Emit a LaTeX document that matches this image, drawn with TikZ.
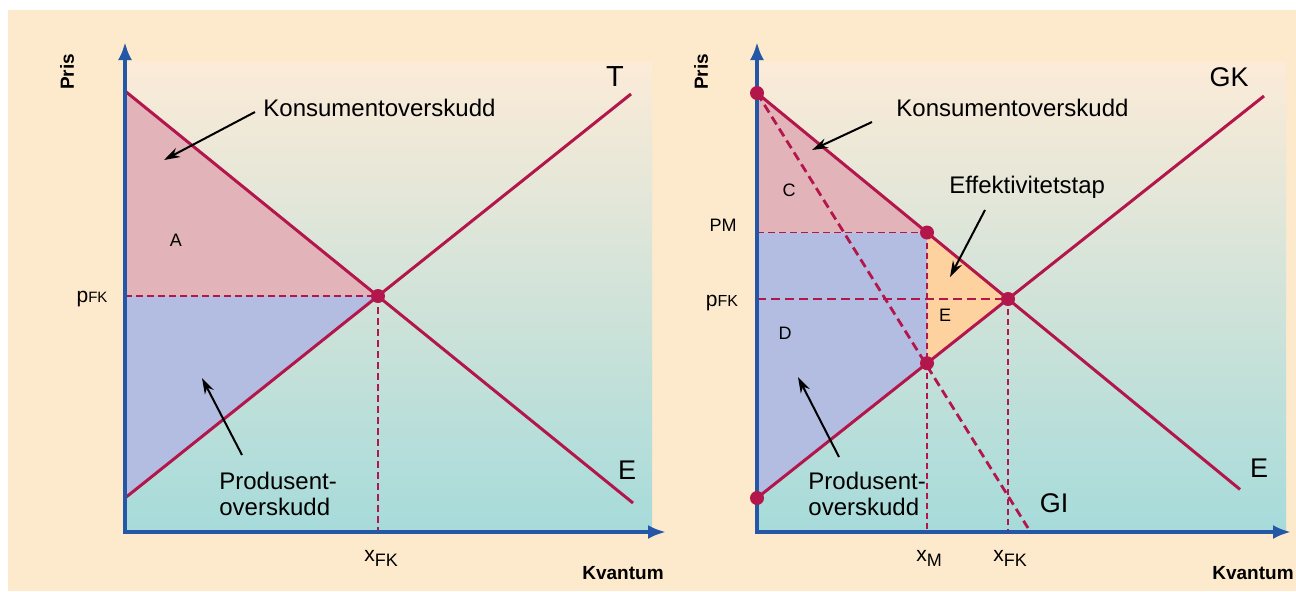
\documentclass[tikz,border=0pt]{standalone}
\usepackage{fontspec}
\setmainfont{Liberation Sans}
\usetikzlibrary{arrows.meta}
\definecolor{peach}{HTML}{FDE9CC}
\definecolor{gtop}{HTML}{FCEBD8}
\definecolor{gmid}{HTML}{D8E5D9}
\definecolor{gbot}{HTML}{A6DBDA}
\definecolor{crim}{HTML}{B3164B}
\definecolor{axblue}{HTML}{2557A7}
\definecolor{cspink}{HTML}{E2B3B9}
\definecolor{pslav}{HTML}{B3BDE1}
\definecolor{dwlor}{HTML}{FDD29F}
\begin{document}
\begin{tikzpicture}[x=0.5pt,y=-0.5pt,
  curve/.style={crim,line width=1.5pt},
  axisline/.style={axblue,line width=2pt,{Latex[length=9pt,width=7pt]}-{Latex[length=9pt,width=7pt]}},
  thindash/.style={crim,line width=0.7pt,dash pattern=on 3.5pt off 2pt},
  middash/.style={crim,line width=1pt,dash pattern=on 3pt off 2pt},
  thickdash/.style={crim,line width=1.4pt,dash pattern=on 4.5pt off 2.5pt},
  dot/.style={circle,fill=crim,inner sep=0pt,minimum size=7pt},
  pointer/.style={black,line width=1pt,-{Stealth[length=8pt,width=5pt]}},
  lbl/.style={inner sep=0pt,font=\fontsize{12}{14}\selectfont},
  big/.style={inner sep=0pt,font=\fontsize{13.5}{15}\selectfont},
  small/.style={inner sep=0pt,font=\fontsize{9}{10}\selectfont},
  axlbl/.style={inner sep=0pt,font=\bfseries\fontsize{9.5}{11}\selectfont}]
\useasboundingbox (0,0) rectangle (1296,591);
\fill[white] (0,0) rectangle (1296,591);
\fill[peach] (8,10) rectangle (1296,591);
\shade[top color=gtop,middle color=gmid,bottom color=gbot] (125,62) rectangle (652,532);
\shade[top color=gtop,middle color=gmid,bottom color=gbot] (757,62) rectangle (1286,532);

% ---------- left panel ----------
\coordinate (LA) at (125,91);
\coordinate (LE) at (378,296);
\coordinate (LP) at (125,296);
\coordinate (LS) at (125,498);
\coordinate (LDend) at (633,503);
\coordinate (LSend) at (631,94);
\coordinate (LX) at (378,532);
\coordinate (LO) at (125,532);
\coordinate (LYtop) at (125,42);
\coordinate (LXend) at (666,532);

\fill[cspink] (LA) -- (LE) -- (LP) -- cycle;
\fill[pslav] (LP) -- (LE) -- (LS) -- cycle;
\draw[thindash] (LP) -- (LE);
\draw[thindash] (LE) -- (LX);
\draw[curve] (LA) -- (LDend);
\draw[curve] (LS) -- (LSend);
\draw[axisline] (LYtop) -- (LO) -- (LXend);
\node[dot] (LEdot) at (LE) {};

\node[axlbl,rotate=90] (Lpris) at (67,72) {Pris};
\node[big,font=\fontsize{14.5}{16}\selectfont] (LT) at (615,77) {T};
\node[big] (LElbl) at (627,470) {E};
\node[lbl,anchor=west] (Lkons) at (263,108) {Konsumentoverskudd};
\node[small] (LAlbl) at (176,240) {A};
\node[inner sep=0pt] (Lpfk) at (92,299) {\fontsize{10.5}{12}\selectfont p\fontsize{7.5}{9}\selectfont FK};
\node[lbl,anchor=west,align=left] (Lprod) at (219,494) {Produsent-\\[-1pt]overskudd};
\node[inner sep=0pt] (Lxfk) at (381,558) {\fontsize{10.5}{12}\selectfont x\raisebox{-2.5pt}{\fontsize{9}{10}\selectfont FK}};
\node[axlbl] (Lkv) at (623,573) {Kvantum};
\coordinate (Lk1) at (255,112);
\coordinate (Lk2) at (164,160);
\coordinate (Lp1) at (242,455);
\coordinate (Lp2) at (202,378);
\draw[pointer] (Lk1) -- (Lk2);
\draw[pointer] (Lp1) -- (Lp2);

% ---------- right panel ----------
\coordinate (RA) at (757,93);
\coordinate (RE) at (1008,299);
\coordinate (RS) at (757,498);
\coordinate (RMd) at (927,232.5);
\coordinate (RMs) at (927,363.2);
\coordinate (RPM) at (757,232.5);
\coordinate (RPF) at (757,299);
\coordinate (RDend) at (1240,489.4);
\coordinate (RSend) at (1264,96);
\coordinate (RGIend) at (1028,528);
\coordinate (RXM) at (927,532);
\coordinate (RXF) at (1008,532);
\coordinate (RO) at (757,532);
\coordinate (RYtop) at (757,42);
\coordinate (RXend) at (1291,532);

\fill[cspink] (RA) -- (RMd) -- (RPM) -- cycle;
\fill[pslav] (RPM) -- (RMd) -- (RMs) -- (RS) -- cycle;
\fill[dwlor] (RMd) -- (RE) -- (RMs) -- cycle;
\draw[thindash] (RPM) -- (RMd);
\draw[thickdash] (RPF) -- (RE);
\draw[middash] (RMd) -- (RXM);
\draw[middash] (RE) -- (RXF);
\draw[thickdash] (RA) -- (RGIend);
\draw[curve] (RA) -- (RDend);
\draw[curve] (RS) -- (RSend);
\draw[axisline] (RYtop) -- (RO) -- (RXend);
\node[dot] (RAdot) at (RA) {};
\node[dot] (RSdot) at (RS) {};
\node[dot] (RMddot) at (RMd) {};
\node[dot] (RMsdot) at (RMs) {};
\node[dot] (REdot) at (RE) {};

\node[axlbl,rotate=90] (Rpris) at (701,72) {Pris};
\node[big] (RGK) at (1229,77) {GK};
\node[big] (RElbl) at (1259,468) {E};
\node[big] (RGI) at (1054,503) {GI};
\node[lbl,anchor=west] (Rkons) at (896,108) {Konsumentoverskudd};
\node[lbl,anchor=west] (Reff) at (949,187) {Effektivitetstap};
\node[small] (RC) at (789,190) {C};
\node[small] (RD) at (785,333) {D};
\node[small] (REs) at (945,315) {E};
\node[inner sep=0pt] (Rpm) at (723,225) {\fontsize{9}{10}\selectfont PM};
\node[inner sep=0pt] (Rpfk) at (722,303) {\fontsize{10.5}{12}\selectfont p\fontsize{8}{9}\selectfont FK};
\node[lbl,anchor=west,align=left] (Rprod) at (808,494) {Produsent-\\[-1pt]overskudd};
\node[inner sep=0pt] (Rxm) at (929,558) {\fontsize{10.5}{12}\selectfont x\raisebox{-2.5pt}{\fontsize{9}{10}\selectfont M}};
\node[inner sep=0pt] (Rxfk) at (1010,558) {\fontsize{10.5}{12}\selectfont x\raisebox{-2.5pt}{\fontsize{9}{10}\selectfont FK}};
\node[axlbl] (Rkv) at (1253,573) {Kvantum};
\coordinate (Rk1) at (872,122);
\coordinate (Rk2) at (812,150);
\coordinate (Re1) at (985,210);
\coordinate (Re2) at (950,277);
\coordinate (Rp1) at (839,457);
\coordinate (Rp2) at (798,377);
\draw[pointer] (Rk1) -- (Rk2);
\draw[pointer] (Re1) -- (Re2);
\draw[pointer] (Rp1) -- (Rp2);
\end{tikzpicture}
\end{document}
